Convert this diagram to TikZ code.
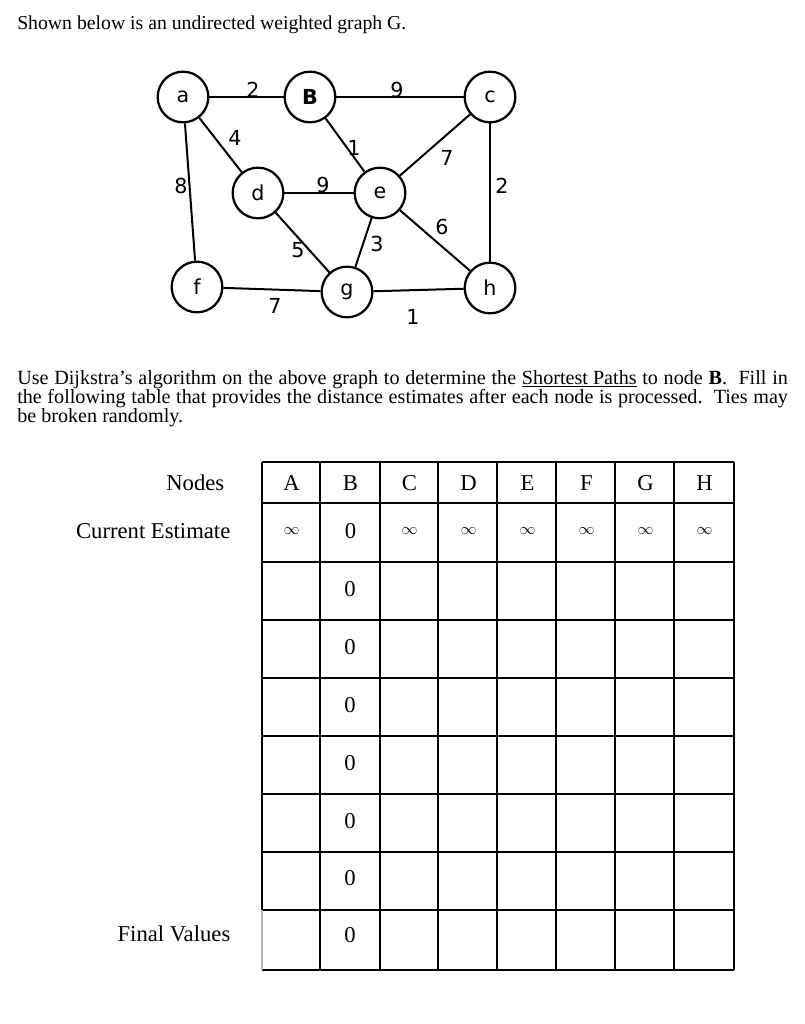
\documentclass[tikz,border=0pt]{standalone}
\usepackage{fontspec}
\setmainfont{Liberation Serif}
\newfontfamily\graphfont{DejaVu Sans}
\usetikzlibrary{positioning}
\tikzset{
    vertex/.style={
        circle,
        draw, line width=1.7pt,
        minimum size=38pt,
        inner sep=0pt,
        font={\graphfont\fontsize{15.5pt}{17}\selectfont}
    },
    edge/.style={draw, line width=1.5pt},
    weight/.style={font={\graphfont\fontsize{15.5pt}{17}\selectfont}},
    cell/.style={font={\fontsize{17pt}{19}\selectfont}},
    rowlabel/.style={anchor=east, font={\fontsize{17pt}{19}\selectfont}},
    grid/.style={line width=2.2pt},
}
\begin{document}
\begin{tikzpicture}[x=0.75pt, y=-0.75pt]
\useasboundingbox (0,0) rectangle (805,1024);
% text above and below the graph
\node (title) [anchor=west, inner sep=0pt, font={\fontsize{14.8pt}{15}\selectfont}] at (17,25)
    {Shown below is an undirected weighted graph G.};
\node (task) [anchor=north west, text width=578pt, align=justify, inner sep=0pt,
    font={\fontsize{15.1pt}{14.3pt}\selectfont}] at (17,370)
    {Use Dijkstra's algorithm on the above graph to determine the \underline{Shortest Paths} to node \textbf{B}.\ \ Fill in the following table that provides the distance estimates after each node is processed.\ \ Ties may be broken randomly.};
% graph
\node (a) [vertex] at (183,97) {a};
\node (b) [vertex] at (310,97) {\textbf{B}};
\node (c) [vertex] at (490,97) {c};
\node (d) [vertex] at (258,193) {d};
\node (e) [vertex] at (380,193) {e};
\node (f) [vertex] at (197,287) {f};
\node (g) [vertex] at (347,292) {g};
\node (h) [vertex] at (490,288) {h};
\draw[edge] (a) -- (b);
\draw[edge] (b) -- (c);
\draw[edge] (a) -- (d);
\draw[edge] (a) -- (f);
\draw[edge] (b) -- (e);
\draw[edge] (c) -- (e);
\draw[edge] (c) -- (h);
\draw[edge] (d) -- (e);
\draw[edge] (d) -- (g);
\draw[edge] (e) -- (g);
\draw[edge] (e) -- (h);
\draw[edge] (f) -- (g);
\draw[edge] (g) -- (h);
\node[weight] at (253,90) {2};
\node[weight] at (397,90) {9};
\node[weight] at (235,138) {4};
\node[weight] at (354,148) {1};
\node[weight] at (447,158) {7};
\node[weight] at (181,186) {8};
\node[weight] at (323,185) {9};
\node[weight] at (502,186) {2};
\node[weight] at (442,227) {6};
\node[weight] at (298,250) {5};
\node[weight] at (377,244) {3};
\node[weight] at (275,306) {7};
\node[weight] at (413,317) {1};
% table
\node (nodes) [rowlabel] at (229,483) {Nodes};
\node (current) [rowlabel] at (235,531) {Current Estimate};
\node (final) [rowlabel] at (235,934) {Final Values};
\foreach \name [count=\i] in {A,B,C,D,E,F,G,H} {
    \node (head\name) [cell] at ({262+59*(\i-0.5)},483) {\name};
    \ifnum\i=2
        \node (est\name) [cell] at ({262+59*(\i-0.5)},531) {0};
    \else
        \node (est\name) [cell, font=\large] at ({262+59*(\i-0.5)},531) {$\infty$};
    \fi
}
\foreach \y [count=\j] in {589,647,705,763,821,878,935} {
    \node (zero\j) [cell] at (350,\y) {0};
}
\foreach \y in {462,503,562,620,678,736,794,852,910,970}
    \draw[grid] (262,\y) -- (734,\y);
\foreach \x in {320,380,438,497,556,615,674,734}
    \draw[grid] (\x,462) -- (\x,970);
\draw[grid] (262,462) -- (262,910);
\draw[gray!60, thick] (262,910) -- (262,970);
\end{tikzpicture}
\end{document}
